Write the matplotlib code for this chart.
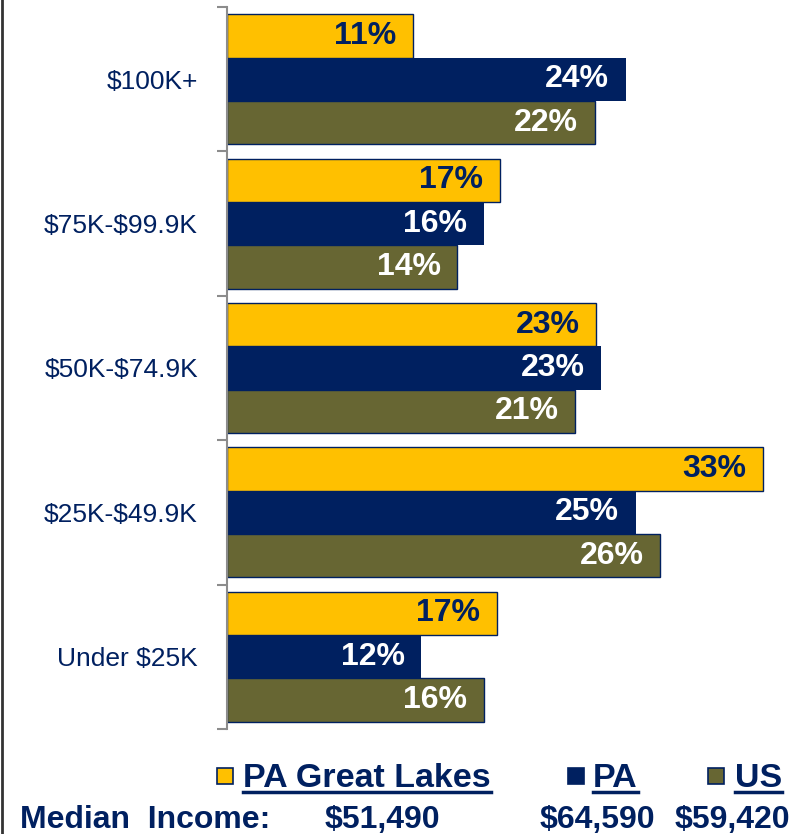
import matplotlib.pyplot as plt
import numpy as np
from matplotlib.lines import Line2D
from matplotlib.patches import Rectangle

plt.rcParams["font.family"] = ["Liberation Sans", "DejaVu Sans"]
plt.rcParams["text.parse_math"] = False

# top to bottom, as in the picture
categories = ["$100K+", "$75K-$99.9K", "$50K-$74.9K", "$25K-$49.9K", "Under $25K"]
great_lakes = [11.4, 16.7, 22.6, 32.8, 16.5]
pa = [24.4, 15.7, 22.9, 25.0, 11.9]
us = [22.5, 14.1, 21.3, 26.5, 15.7]
great_lakes_lbl = [11, 17, 23, 33, 17]
pa_lbl = [24, 16, 23, 25, 12]
us_lbl = [22, 14, 21, 26, 16]

series_names = ["PA Great Lakes", "PA", "US"]
median_income = ["$51,490", "$64,590", "$59,420"]

YELLOW = "#FFC000"
NAVY = "#002060"
OLIVE = "#676633"
W, H = 806, 834

fig = plt.figure(figsize=(W / 100, H / 100), dpi=100)
ax = fig.add_axes([227 / W, (H - 729) / H, 572 / W, 722 / H])

y = np.arange(len(categories))
h = 0.3
series = [
    (great_lakes, great_lakes_lbl, YELLOW, NAVY, -h),
    (pa, pa_lbl, NAVY, "white", 0.0),
    (us, us_lbl, OLIVE, "white", h),
]
for vals, lbls, color, tcolor, off in series:
    edge = NAVY if color != NAVY else "none"
    bars = ax.barh(y + off, vals, height=h, color=color, edgecolor=edge, linewidth=1.0)
    for b, v, l in zip(bars, vals, lbls):
        ax.annotate(f"{l}%", xy=(v, b.get_y() + h / 2), xytext=(-12, 0),
                    textcoords="offset points", ha="right", va="center",
                    fontsize=23, fontweight="bold", color=tcolor)

ax.set_xlim(0, 35)
ax.set_ylim(len(categories) - 0.5, -0.5)
ax.set_xticks([])
ax.set_yticks(np.arange(len(categories) + 1) - 0.5)
ax.set_yticklabels([])
ax.set_yticks(y, minor=True)
ax.set_yticklabels(categories, minor=True, fontsize=19, color=NAVY)
ax.tick_params(axis="y", which="major", length=7.5, width=1.5, color="#8C8C8C")
ax.tick_params(axis="y", which="minor", length=0, pad=21)
for s in ["top", "right", "bottom"]:
    ax.spines[s].set_visible(False)
ax.spines["left"].set_color("#8C8C8C")
ax.spines["left"].set_linewidth(1.5)

# left border of the slide
fig.add_artist(Line2D([1.5 / W, 1.5 / W], [0, 1], transform=fig.transFigure,
                      color="#333333", lw=2))

# legend row with underlined names
fig.canvas.draw()
renderer = fig.canvas.get_renderer()
legend_x = [(217, 243), (568, 593), (708, 735)]
for (sx, tx), name, color in zip(legend_x, series_names, [YELLOW, NAVY, OLIVE]):
    fig.add_artist(Rectangle((sx / W, (H - 784) / H), 16 / W, 16 / H,
                             transform=fig.transFigure, facecolor=color,
                             edgecolor=NAVY, linewidth=1.2))
    t = fig.text(tx / W, (H - 787) / H, name, fontsize=24.5, fontweight="bold",
                 color=NAVY, ha="left", va="baseline")
    bb = t.get_window_extent(renderer)
    fig.add_artist(Line2D([bb.x0 / W, bb.x1 / W], [(H - 792) / H] * 2,
                          transform=fig.transFigure, color=NAVY, lw=2.5))

fig.text(20 / W, (H - 828) / H, "Median  Income:", fontsize=23, fontweight="bold",
         color=NAVY, ha="left", va="baseline")
for x0, val in zip([325, 540, 675], median_income):
    fig.text(x0 / W, (H - 828) / H, val, fontsize=23, fontweight="bold",
             color=NAVY, ha="left", va="baseline")

fig.savefig("out.png", dpi=100)
